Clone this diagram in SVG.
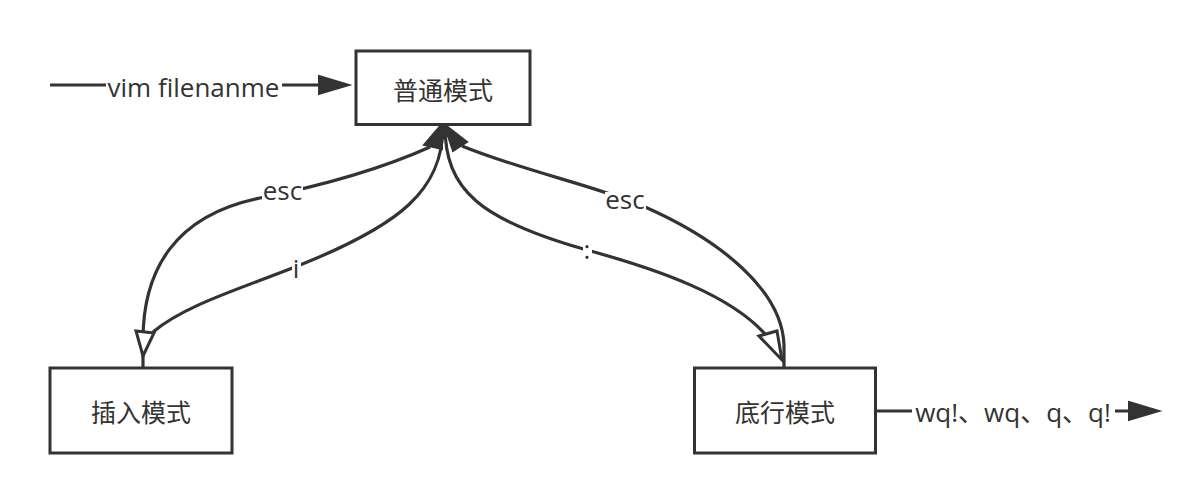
<svg xmlns="http://www.w3.org/2000/svg" width="1200" height="504" viewBox="0 0 1200 504">
<style>
.box{fill:#fff;stroke:#333;stroke-width:3}
.cjk{font-family:"Noto Sans CJK SC","Noto Sans",sans-serif;font-size:25px;fill:#333;text-anchor:middle}
.edge{fill:none;stroke:#333;stroke-width:3.2}
.filled{fill:#333;stroke:#333;stroke-width:2;stroke-linejoin:miter}
.hollow{fill:#fff;stroke:#333;stroke-width:3;stroke-linejoin:miter}
.bg{fill:#fff}
.lbl{font-family:"Open Sans","Noto Sans CJK SC",sans-serif;font-size:26px;fill:#333;text-anchor:middle}
</style>
<rect width="1200" height="504" fill="#fff"/>
<g id="connectors">
  <path class="edge" d="M50,85 L320,85"/>
  <polygon class="filled" points="319,76 349,85 319,94"/>
  <rect class="bg" x="106" y="72" width="176" height="30"/>
  <text class="lbl" x="193.5" y="97">vim filenanme</text>

  <path class="edge" d="M877,411 L1130,411"/>
  <polygon class="filled" points="1129,402 1159,411 1129,420"/>
  <rect class="bg" x="912" y="398" width="203" height="32"/>
  <text class="lbl" x="1013" y="422">wq!、wq、q、q!</text>

  <path class="edge" d="M143,367 L143,340 C143,270 175,215 260,198 C330,184 390,165 430,147"/>
  <polygon class="filled" points="442,124 424,145 442,149"/>
  <rect class="bg" x="262" y="183" width="41" height="22"/>
  <text class="lbl" x="282.5" y="200">esc</text>

  <path class="edge" d="M443,126 C443,190 400,225 300,265 C240,289 185,305 153,332"/>
  <polygon class="hollow" points="136,331 154,333 143,356"/>
  <rect class="bg" x="292" y="255" width="9" height="27"/>
  <text class="lbl" x="296" y="278">i</text>

  <path class="edge" d="M784,367 L784,345 C782,290 720,240 645,207 C600,187 520,170 462,146"/>
  <polygon class="filled" points="444,124 467,142 453,151"/>
  <rect class="bg" x="605" y="192" width="41" height="22"/>
  <text class="lbl" x="625" y="209">esc</text>

  <path class="edge" d="M445,126 C445,190 480,220 587,250 C660,270 730,295 765,334"/>
  <polygon class="hollow" points="759,336 777,331 782,360"/>
  <rect class="bg" x="583" y="241" width="9" height="21"/>
  <text class="lbl" x="587" y="259">:</text>
</g>
<g id="normal">
  <rect class="box" x="356" y="51" width="174" height="73.5"/>
  <text class="cjk" x="443" y="100">普通模式</text>
</g>
<g id="insert">
  <rect class="box" x="50" y="368" width="182" height="85"/>
  <text class="cjk" x="141" y="422">插入模式</text>
</g>
<g id="cmdline">
  <rect class="box" x="694.5" y="368" width="181" height="85"/>
  <text class="cjk" x="785" y="422">底行模式</text>
</g>
</svg>
